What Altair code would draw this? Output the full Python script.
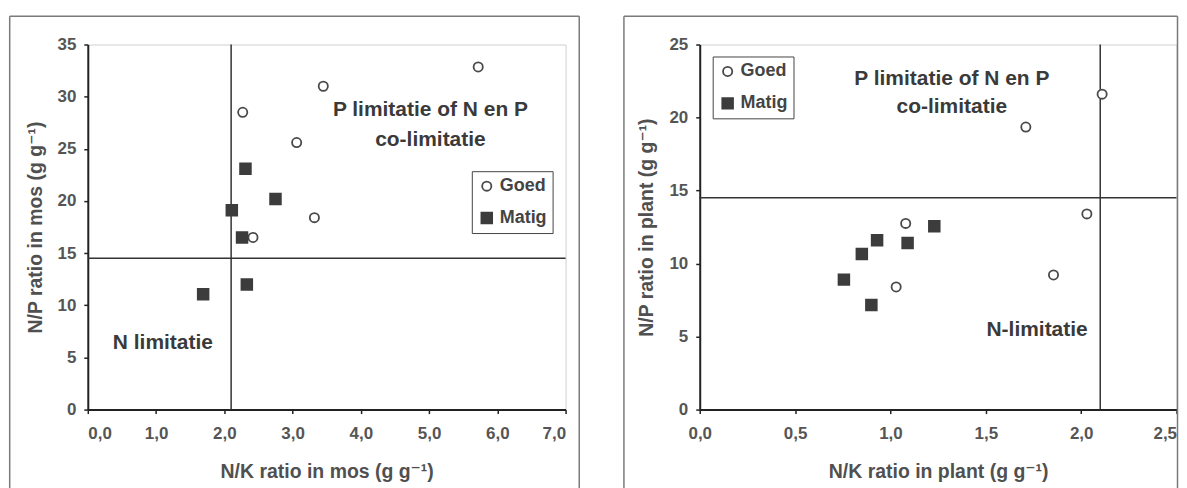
import altair as alt
import pandas as pd

FONT = "Liberation Sans, Arial, DejaVu Sans, sans-serif"

series = ["Goed", "Matig"]

# ---- Left panel: mos ----
mos_goed_nk = [5.72, 3.45, 2.27, 3.06, 3.32, 2.42]
mos_goed_np = [32.85, 31.0, 28.5, 25.6, 18.4, 16.5]
mos_matig_nk = [2.31, 2.75, 2.11, 2.26, 2.33, 1.69]
mos_matig_np = [23.1, 20.2, 19.1, 16.5, 12.0, 11.05]

# ---- Right panel: plant ----
plant_goed_nk = [2.11, 1.71, 2.03, 1.08, 1.855, 1.03]
plant_goed_np = [21.6, 19.35, 13.4, 12.75, 9.22, 8.4]
plant_matig_nk = [1.23, 0.93, 1.09, 0.85, 0.756, 0.90]
plant_matig_np = [12.55, 11.6, 11.4, 10.65, 8.9, 7.16]

threshold_nk = 2.1
threshold_np = 14.5

mos_x_ticks = [0, 1, 2, 3, 4, 5, 6, 7]
mos_y_ticks = [0, 5, 10, 15, 20, 25, 30, 35]
plant_x_ticks = [0, 0.5, 1.0, 1.5, 2.0, 2.5]
plant_y_ticks = [0, 5, 10, 15, 20, 25]

mos_labels = ["P limitatie of N en P", "co-limitatie", "N limitatie"]
mos_label_x = [5.02, 5.02, 1.10]
mos_label_y = [28.7, 25.8, 6.4]

plant_labels = ["P limitatie of N en P", "co-limitatie", "N-limitatie"]
plant_label_x = [1.322, 1.322, 1.769]
plant_label_y = [22.64, 20.71, 5.45]


def points_df(gx, gy, mx, my):
    return pd.DataFrame({
        "nk": gx + mx,
        "np": gy + my,
        "serie": ["Goed"] * len(gx) + ["Matig"] * len(mx),
    })


def panel(df, lab, lx, ly, x_max, y_max, x_ticks, y_ticks, x_title, y_title,
          width, height, legend_x, legend_y, frame_left, frame_right, frame_top, frame_bottom,
          last_label_right=False):
    leg = alt.Legend(
        orient="none", legendX=legend_x, legendY=legend_y, title=None,
        strokeColor="#444", padding=6, rowPadding=14,
        labelFontSize=18, labelFont=FONT, labelFontWeight="bold", labelColor="#444",
        labelOffset=4, symbolStrokeWidth=1.8, fillColor="white",
    )
    xaxis_kw = dict(values=x_ticks, grid=False, labelPadding=12, titlePadding=21,
                    labelExpr="replace(format(datum.value, '.1f'), '.', ',')")
    if last_label_right:
        xaxis_kw["labelAlign"] = {"condition": {"test": f"datum.value >= {x_max}", "value": "right"},
                                  "value": "center"}
    x = alt.X("nk:Q", title=x_title,
              scale=alt.Scale(domain=[0, x_max], nice=False, zero=True),
              axis=alt.Axis(**xaxis_kw))
    y = alt.Y("np:Q", title=y_title,
              scale=alt.Scale(domain=[0, y_max], nice=False, zero=True),
              axis=alt.Axis(values=y_ticks, grid=False, format="d", labelPadding=8,
                            titlePadding=12))
    pts = alt.Chart(df).mark_point(strokeWidth=1.8, opacity=1).encode(
        x=x, y=y,
        shape=alt.Shape("serie:N", scale=alt.Scale(domain=series, range=["circle", "square"]), legend=leg),
        fill=alt.Fill("serie:N", scale=alt.Scale(domain=series, range=["white", "#3c3c3c"]), legend=leg),
        stroke=alt.Stroke("serie:N", scale=alt.Scale(domain=series, range=["#4a4a4a", "#3c3c3c"]), legend=leg),
        size=alt.Size("serie:N", scale=alt.Scale(domain=series, range=[85, 115]), legend=leg),
    )
    vrule = alt.Chart(pd.DataFrame({"nk": [threshold_nk]})).mark_rule(
        color="#333", strokeWidth=1.5).encode(x="nk:Q")
    hrule = alt.Chart(pd.DataFrame({"np": [threshold_np]})).mark_rule(
        color="#333", strokeWidth=1.5).encode(y="np:Q")
    txt = alt.Chart(pd.DataFrame({"nk": lx, "np": ly, "t": lab})).mark_text(
        font=FONT, fontSize=21, fontWeight="bold", color="#3a3a3a"
    ).encode(x="nk:Q", y="np:Q", text="t:N")

    one = pd.DataFrame({"a": [0]})
    frame_style = dict(color="#7a7a7a", strokeWidth=1.5)
    frames = [
        alt.Chart(one).mark_rule(**frame_style).encode(
            x=alt.value(frame_left), y=alt.value(frame_top), y2=alt.value(frame_bottom)),
        alt.Chart(one).mark_rule(**frame_style).encode(
            x=alt.value(frame_left), x2=alt.value(frame_right), y=alt.value(frame_top)),
    ]
    if frame_right < width + 15:
        frames.append(alt.Chart(one).mark_rule(**frame_style).encode(
            x=alt.value(frame_right), y=alt.value(frame_top), y2=alt.value(frame_bottom)))
    return alt.layer(*frames, hrule, vrule, txt, pts).properties(width=width, height=height)


left = panel(points_df(mos_goed_nk, mos_goed_np, mos_matig_nk, mos_matig_np),
             mos_labels, mos_label_x, mos_label_y, 7, 35, mos_x_ticks, mos_y_ticks,
             "N/K ratio in mos (g g⁻¹)", "N/P ratio in mos  (g g⁻¹)",
             479, 366, 385, 127, -78.3, 492.7, -28.3, 444.7)

right = panel(points_df(plant_goed_nk, plant_goed_np, plant_matig_nk, plant_matig_np),
              plant_labels, plant_label_x, plant_label_y, 2.5, 25, plant_x_ticks, plant_y_ticks,
              "N/K ratio in plant (g g⁻¹)", "N/P ratio in plant (g g⁻¹)",
              478, 366, 13, 12, -76, 479, -28.3, 444.7, last_label_right=True)

chart = alt.hconcat(left, right, spacing=41.5).resolve_scale(
    x="independent", y="independent", shape="independent", fill="independent",
    stroke="independent", size="independent"
).resolve_legend(
    shape="independent", fill="independent", stroke="independent", size="independent"
).properties(
    padding={"left": 0, "top": 6, "right": 0, "bottom": 0},
    background="white",
).configure_view(
    stroke="#cfcfcf", strokeWidth=1
).configure_axis(
    domainColor="#222", domainWidth=2, tickColor="#222", tickWidth=1.5, tickSize=4,
    labelFont=FONT, labelFontSize=17, labelFontWeight="bold", labelColor="#555",
    titleFont=FONT, titleFontSize=19.5, titleFontWeight="bold", titleColor="#505050",
)

chart.save("out.html", embed_options={"renderer": "svg", "actions": False})
